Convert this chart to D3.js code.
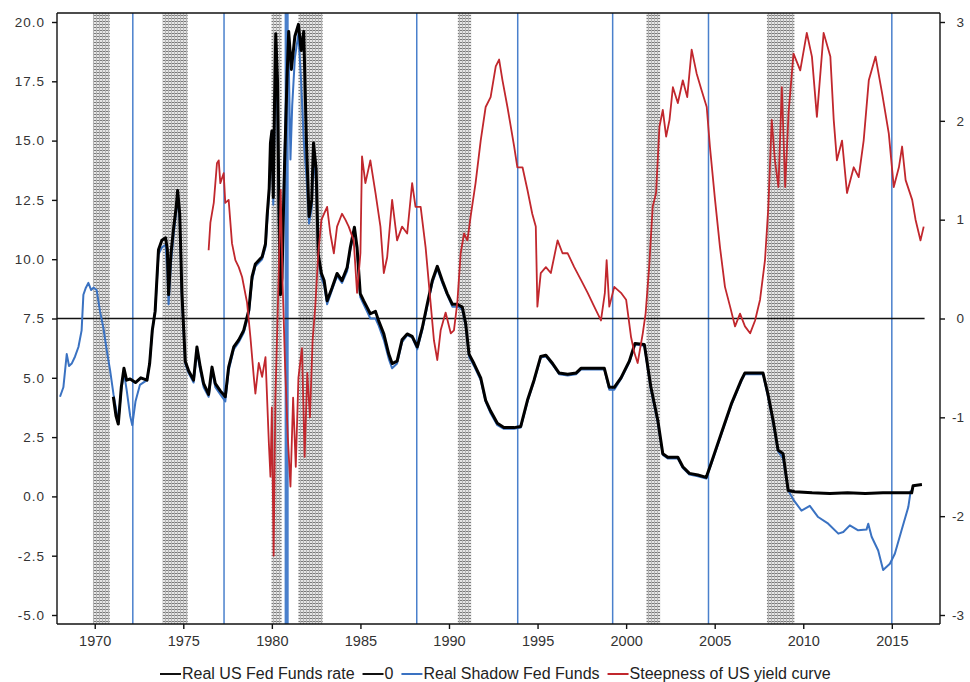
<!DOCTYPE html>
<html lang="en">
<head>
<meta charset="utf-8">
<script src="https://cdnjs.cloudflare.com/ajax/libs/d3/7.8.5/d3.min.js"></script>
<style>
body { margin: 0; background: #fff; }
svg text { font-family: "Liberation Sans", Arial, sans-serif; fill: #333; }
.axis path, .axis line { stroke: #111; stroke-width: 1.4; }
</style>
</head>
<body>
<svg width="970" height="682"></svg>
<script>

// real US fed funds rate, [year, %]
var fedFunds = [
  [1971.05,4.2],[1971.2,3.4],[1971.33,3.05],[1971.5,4.6],[1971.65,5.4],[1971.8,4.9],[1972.0,4.95],
  [1972.3,4.8],[1972.6,5.0],[1972.95,4.9],[1973.1,5.6],[1973.25,7.0],[1973.41,7.8],[1973.6,10.4],
  [1973.79,10.8],[1974.0,10.9],[1974.1,10.4],[1974.17,8.5],[1974.3,10.2],[1974.45,11.3],[1974.6,12.2],
  [1974.68,12.9],[1974.8,11.9],[1974.92,8.6],[1975.11,5.7],[1975.3,5.3],[1975.58,4.9],[1975.77,6.3],
  [1975.96,5.45],[1976.15,4.75],[1976.43,4.3],[1976.62,5.45],[1976.81,4.75],[1977.09,4.45],[1977.37,4.2],
  [1977.56,5.45],[1977.85,6.3],[1978.13,6.6],[1978.41,7.0],[1978.7,7.85],[1978.88,9.25],[1979.07,9.8],
  [1979.45,10.1],[1979.64,10.65],[1979.73,11.8],[1979.85,13.0],[1979.92,14.9],[1980.0,15.4],[1980.08,12.6],
  [1980.15,16.5],[1980.22,19.5],[1980.32,17.5],[1980.4,12.0],[1980.48,8.5],[1980.57,9.2],[1980.7,13.5],
  [1980.85,17.5],[1980.95,19.6],[1981.1,18.0],[1981.3,19.4],[1981.5,19.9],[1981.65,18.8],[1981.8,19.6],
  [1981.95,15.0],[1982.1,11.8],[1982.25,12.5],[1982.35,14.9],[1982.5,13.8],[1982.62,10.2],[1982.8,9.4],
  [1982.95,9.1],[1983.12,8.25],[1983.4,8.8],[1983.68,9.4],[1983.96,9.1],[1984.25,9.65],[1984.43,10.5],
  [1984.66,11.35],[1984.81,10.5],[1984.99,8.55],[1985.18,8.25],[1985.37,7.98],[1985.56,7.7],[1985.85,7.8],
  [1986.03,7.4],[1986.32,6.85],[1986.6,6.0],[1986.79,5.6],[1987.07,5.7],[1987.35,6.6],[1987.64,6.85],
  [1987.92,6.75],[1988.21,6.3],[1988.49,7.1],[1988.77,8.1],[1989.06,9.1],[1989.34,9.7],[1989.62,9.1],
  [1989.9,8.55],[1990.19,8.1],[1990.47,8.1],[1990.75,7.98],[1990.94,7.3],[1991.13,6.0],[1991.41,5.6],
  [1991.79,5.0],[1992.07,4.05],[1992.35,3.6],[1992.73,3.08],[1993.1,2.9],[1993.67,2.9],[1994.05,2.95],
  [1994.43,4.05],[1994.8,4.9],[1995.18,5.9],[1995.47,5.95],[1995.85,5.6],[1996.22,5.2],[1996.7,5.15],
  [1997.17,5.2],[1997.45,5.4],[1998.2,5.4],[1998.77,5.4],[1999.05,4.6],[1999.33,4.6],[1999.71,5.0],
  [2000.18,5.7],[2000.5,6.45],[2001.03,6.4],[2001.4,4.6],[2001.79,3.2],[2002.07,1.8],[2002.35,1.65],
  [2002.92,1.65],[2003.2,1.25],[2003.57,0.97],[2004.05,0.9],[2004.52,0.8],[2004.8,1.4],[2005.37,2.65],
  [2005.94,3.9],[2006.5,4.9],[2006.7,5.2],[2007.73,5.2],[2008.01,4.3],[2008.3,3.2],[2008.58,1.95],
  [2008.86,1.8],[2009.15,0.25],[2009.52,0.2],[2010.5,0.15],[2011.5,0.12],[2012.5,0.15],[2013.5,0.12],
  [2014.5,0.15],[2015.5,0.15],[2016.12,0.15],[2016.2,0.45],[2016.7,0.5]
];

// real shadow fed funds, [year, %]
var shadowFunds = [
  [1968.04,4.2],[1968.23,4.6],[1968.42,6.0],[1968.55,5.5],[1968.7,5.6],[1968.89,5.9],[1969.08,6.3],
  [1969.26,7.0],[1969.36,8.5],[1969.5,8.8],[1969.64,9.0],[1969.8,8.7],[1969.93,8.8],[1970.11,8.7],
  [1970.3,7.8],[1970.49,7.1],[1970.68,6.15],[1970.87,5.3],[1971.06,4.3],[1971.25,3.5],[1971.33,3.1],
  [1971.5,4.5],[1971.65,5.2],[1971.8,4.5],[1972.0,3.4],[1972.12,3.0],[1972.3,4.0],[1972.55,4.7],
  [1972.95,4.9],[1973.1,5.6],[1973.25,7.0],[1973.41,7.8],[1973.6,10.2],[1973.79,10.5],[1974.0,10.6],
  [1974.1,9.5],[1974.17,8.1],[1974.3,9.8],[1974.45,11.0],[1974.6,12.0],[1974.68,12.6],[1974.8,11.6],
  [1974.92,8.4],[1975.11,5.6],[1975.3,5.2],[1975.58,4.8],[1975.77,6.1],[1975.96,5.3],[1976.15,4.6],
  [1976.43,4.2],[1976.62,5.3],[1976.81,4.6],[1977.09,4.3],[1977.37,4.0],[1977.56,5.3],[1977.85,6.2],
  [1978.13,6.5],[1978.41,6.9],[1978.7,7.7],[1978.88,9.1],[1979.07,9.7],[1979.45,10.0],[1979.64,10.5],
  [1979.73,11.5],[1979.85,12.8],[1979.92,14.5],[1980.0,15.0],[1980.08,12.3],[1980.15,16.0],[1980.22,19.0],
  [1980.32,16.0],[1980.4,11.5],[1980.48,8.8],[1980.57,9.5],[1980.7,14.0],[1980.85,18.0],[1980.95,18.5],
  [1981.05,14.2],[1981.15,16.5],[1981.3,18.5],[1981.5,19.5],[1981.65,17.5],[1981.8,15.0],[1981.95,13.5],
  [1982.1,11.5],[1982.25,12.2],[1982.35,14.3],[1982.5,13.2],[1982.62,10.0],[1982.8,9.2],[1982.95,8.9],
  [1983.12,8.1],[1983.4,8.7],[1983.68,9.3],[1983.96,9.0],[1984.25,9.5],[1984.43,10.4],[1984.66,11.2],
  [1984.81,10.4],[1984.99,8.4],[1985.18,8.1],[1985.37,7.8],[1985.56,7.5],[1985.85,7.5],[1986.03,7.2],
  [1986.32,6.6],[1986.6,5.8],[1986.79,5.4],[1987.07,5.6],[1987.35,6.5],[1987.64,6.8],[1987.92,6.7],
  [1988.21,6.2],[1988.49,7.0],[1988.77,8.0],[1989.06,9.0],[1989.34,9.6],[1989.62,9.0],[1989.9,8.5],
  [1990.19,8.0],[1990.47,8.0],[1990.75,7.9],[1990.94,7.2],[1991.13,5.9],[1991.41,5.5],[1991.79,4.9],
  [1992.07,4.0],[1992.35,3.5],[1992.73,3.0],[1993.1,2.85],[1993.67,2.85],[1994.05,2.9],[1994.43,4.0],
  [1994.8,4.85],[1995.18,5.85],[1995.47,5.9],[1995.85,5.55],[1996.22,5.15],[1996.7,5.1],[1997.17,5.15],
  [1997.45,5.35],[1998.2,5.35],[1998.77,5.35],[1999.05,4.5],[1999.33,4.5],[1999.71,4.95],[2000.18,5.65],
  [2000.5,6.4],[2001.03,6.35],[2001.4,4.5],[2001.79,3.1],[2002.07,1.75],[2002.35,1.6],[2002.92,1.6],
  [2003.2,1.2],[2003.57,0.92],[2004.05,0.85],[2004.52,0.75],[2004.8,1.35],[2005.37,2.6],[2005.94,3.85],
  [2006.5,4.85],[2006.7,5.15],[2007.73,5.15],[2008.01,4.2],[2008.3,3.1],[2008.58,1.9],[2008.86,1.6],
  [2009.15,0.25],[2009.5,-0.2],[2009.9,-0.6],[2010.37,-0.4],[2010.84,-0.87],[2011.41,-1.15],[2011.98,-1.57],
  [2012.26,-1.5],[2012.63,-1.22],[2013.1,-1.43],[2013.57,-1.4],[2013.67,-1.15],[2013.86,-1.7],[2014.23,-2.28],
  [2014.51,-3.1],[2014.89,-2.84],[2015.17,-2.42],[2015.55,-1.43],[2015.93,-0.45],[2016.07,0.25]
];

// steepness of US yield curve (right axis), [year, %]
var steepness = [
  [1976.43,0.69],[1976.53,0.97],[1976.72,1.17],[1976.9,1.57],[1977.0,1.6],[1977.09,1.37],[1977.28,1.47],
  [1977.37,1.17],[1977.56,1.2],[1977.75,0.76],[1977.94,0.59],[1978.13,0.52],[1978.32,0.42],[1978.6,0.16],
  [1978.79,-0.19],[1978.98,-0.59],[1979.07,-0.76],[1979.26,-0.45],[1979.45,-0.59],[1979.64,-0.39],
  [1979.83,-1.26],[1979.92,-1.6],[1980.0,-0.9],[1980.1,-2.4],[1980.2,-0.8],[1980.35,0.2],[1980.5,1.3],
  [1980.6,0.4],[1980.75,-0.5],[1980.9,-1.2],[1981.05,-1.7],[1981.2,-0.8],[1981.35,-1.5],[1981.5,-0.6],
  [1981.7,-0.3],[1981.85,-1.4],[1982.0,-0.55],[1982.15,-1.0],[1982.3,-0.22],[1982.45,0.12],[1982.62,0.66],
  [1982.8,1.0],[1983.12,1.13],[1983.3,0.86],[1983.5,0.66],[1983.68,0.93],[1983.96,1.06],[1984.15,1.0],
  [1984.34,0.93],[1984.62,0.79],[1984.81,0.26],[1985.0,0.66],[1985.09,1.64],[1985.28,1.37],[1985.56,1.6],
  [1985.85,1.27],[1986.13,0.93],[1986.32,0.46],[1986.51,0.62],[1986.79,1.2],[1987.07,0.79],[1987.35,0.93],
  [1987.64,0.86],[1987.92,1.37],[1988.11,1.13],[1988.4,1.13],[1988.68,0.72],[1988.96,0.16],[1989.15,-0.22],
  [1989.34,-0.42],[1989.53,-0.12],[1989.81,0.06],[1990.1,-0.15],[1990.28,-0.12],[1990.47,0.16],[1990.66,0.66],
  [1990.85,0.86],[1991.04,0.79],[1991.22,1.03],[1991.5,1.37],[1991.79,1.8],[1992.07,2.14],[1992.35,2.24],
  [1992.64,2.55],[1992.83,2.62],[1993.02,2.41],[1993.3,2.14],[1993.68,1.74],[1993.86,1.53],[1994.15,1.53],
  [1994.43,1.3],[1994.7,1.06],[1994.9,0.93],[1994.99,0.12],[1995.18,0.46],[1995.47,0.52],[1995.75,0.46],
  [1996.13,0.79],[1996.41,0.66],[1996.7,0.66],[1997.07,0.52],[1997.45,0.39],[1997.83,0.26],[1998.2,0.12],
  [1998.58,-0.02],[1998.8,0.26],[1998.9,0.59],[1999.05,0.12],[1999.33,0.32],[1999.71,0.26],[2000.0,0.19],
  [2000.28,-0.19],[2000.47,-0.35],[2000.65,-0.45],[2000.94,-0.15],[2001.1,0.05],[2001.3,0.52],[2001.5,1.13],
  [2001.69,1.27],[2001.88,1.94],[2002.07,2.11],[2002.26,1.84],[2002.45,2.01],[2002.64,2.34],[2002.92,2.18],
  [2003.2,2.41],[2003.45,2.24],[2003.7,2.72],[2003.98,2.48],[2004.26,2.31],[2004.55,2.14],[2004.73,1.74],
  [2005.02,1.2],[2005.3,0.72],[2005.58,0.32],[2005.87,0.12],[2006.15,-0.08],[2006.43,0.05],[2006.71,-0.08],
  [2007.0,-0.15],[2007.28,-0.02],[2007.56,0.19],[2007.84,0.59],[2008.03,1.13],[2008.22,2.01],[2008.4,1.6],
  [2008.6,1.33],[2008.79,2.34],[2008.98,1.33],[2009.17,2.08],[2009.45,2.68],[2009.83,2.51],[2010.2,2.89],
  [2010.49,2.65],[2010.77,2.04],[2011.15,2.89],[2011.53,2.65],[2011.72,2.01],[2011.9,1.6],[2012.19,1.8],
  [2012.47,1.27],[2012.85,1.53],[2013.13,1.43],[2013.41,1.8],[2013.7,2.41],[2014.08,2.65],[2014.45,2.28],
  [2014.83,1.87],[2015.11,1.33],[2015.4,1.53],[2015.58,1.74],[2015.78,1.4],[2016.15,1.2],[2016.34,1.0],
  [2016.62,0.79],[2016.8,0.93]
];

// the "0" reference line (right axis)
var zeroLine = [[1967.87, 0], [2016.85, 0]];

// recession periods (shaded)
var recessions = [
  [1969.9, 1970.85], [1973.83, 1975.25], [1979.98, 1980.55], [1981.5, 1982.87],
  [1990.5, 1991.25], [2001.15, 2001.92], [2007.95, 2009.5]
];

// blue vertical markers, and the one broad band around 1980.8
var markers = [1972.15, 1977.3, 1988.18, 1993.88, 1999.24, 2004.65, 2015.0];
var markerBand = [1980.72, 1980.95];

var yearTicks = d3.range(1970, 2016, 5);
var leftTicks = [-5, -2.5, 0, 2.5, 5, 7.5, 10, 12.5, 15, 17.5, 20];
var rightTicks = [-3, -2, -1, 0, 1, 2, 3];

var legendItems = [
  {label: "Real US Fed Funds rate", color: "#111"},
  {label: "0", color: "#111"},
  {label: "Real Shadow Fed Funds", color: "#3a72c2"},
  {label: "Steepness of US yield curve", color: "#c1272d"}
];

var svg = d3.select("svg"),
    box = {l: 57, r: 940, t: 13, b: 624};

var x = d3.scaleLinear().domain([1967.87, 2017.72]).range([box.l, box.r]);
var y = d3.scaleLinear().domain([-5, 20]).range([615, 22]);
var y2 = d3.scaleLinear().domain([-3, 3]).range([615, 22]);

// hatch pattern for recessions
var pat = svg.append("defs").append("pattern")
    .attr("id", "rec").attr("width", 3).attr("height", 3)
    .attr("patternUnits", "userSpaceOnUse");
pat.append("rect").attr("width", 3).attr("height", 3).attr("fill", "#e6e6e6");
pat.append("rect").attr("width", 3).attr("height", 1).attr("fill", "#7a7a7a");
pat.append("rect").attr("width", 1).attr("height", 3).attr("fill", "#b4b4b4");

svg.selectAll(".rec").data(recessions).enter().append("rect")
    .attr("class", "rec")
    .attr("x", function(d) { return x(d[0]); })
    .attr("width", function(d) { return x(d[1]) - x(d[0]); })
    .attr("y", box.t)
    .attr("height", box.b - box.t)
    .attr("fill", "url(#rec)");

svg.selectAll(".mark").data(markers).enter().append("line")
    .attr("class", "mark")
    .attr("x1", function(d) { return x(d); }).attr("x2", function(d) { return x(d); })
    .attr("y1", box.t).attr("y2", box.b)
    .attr("stroke", "#4a80cc").attr("stroke-width", 1.5);

svg.append("rect")
    .attr("x", x(markerBand[0])).attr("width", x(markerBand[1]) - x(markerBand[0]))
    .attr("y", box.t).attr("height", box.b - box.t)
    .attr("fill", "#4a80cc");

var lineL = d3.line().x(function(d) { return x(d[0]); }).y(function(d) { return y(d[1]); });
var lineR = d3.line().x(function(d) { return x(d[0]); }).y(function(d) { return y2(d[1]); });

svg.append("path").datum(zeroLine).attr("d", lineR)
    .attr("fill", "none").attr("stroke", "#111").attr("stroke-width", 1.4);

svg.append("path").datum(shadowFunds).attr("d", lineL)
    .attr("fill", "none").attr("stroke", "#3a72c2").attr("stroke-width", 2)
    .attr("stroke-linejoin", "round");

svg.append("path").datum(fedFunds).attr("d", lineL)
    .attr("fill", "none").attr("stroke", "#000").attr("stroke-width", 3)
    .attr("stroke-linejoin", "round");

svg.append("path").datum(steepness).attr("d", lineR)
    .attr("fill", "none").attr("stroke", "#c1272d").attr("stroke-width", 1.8)
    .attr("stroke-linejoin", "round");

// frame
svg.append("line").attr("x1", box.l).attr("x2", box.r).attr("y1", box.t).attr("y2", box.t)
    .attr("stroke", "#111").attr("stroke-width", 1.4);

// axes
var gx = svg.append("g").attr("class", "axis")
    .attr("transform", "translate(0," + box.b + ")")
    .call(d3.axisBottom(x).tickValues(yearTicks).tickFormat(d3.format("d"))
      .tickSize(5).tickPadding(7).tickSizeOuter(0));
gx.select(".domain").attr("d", "M" + box.l + ",0H" + box.r);
gx.selectAll("text").style("font-size", "14.5px");

var gy = svg.append("g").attr("class", "axis")
    .attr("transform", "translate(" + box.l + ",0)")
    .call(d3.axisLeft(y).tickValues(leftTicks).tickFormat(function(d) { return d.toFixed(1); })
      .tickSize(5).tickPadding(7).tickSizeOuter(0));
gy.select(".domain").attr("d", "M0," + box.t + "V" + box.b);
gy.selectAll("text").style("font-size", "13.5px").style("letter-spacing", "1px");

var gy2 = svg.append("g").attr("class", "axis")
    .attr("transform", "translate(" + box.r + ",0)")
    .call(d3.axisRight(y2).tickValues(rightTicks).tickFormat(function(d) { return String(d); })
      .tickSize(5).tickPadding(7).tickSizeOuter(0));
gy2.select(".domain").attr("d", "M0," + box.t + "V" + box.b);
gy2.selectAll("text").style("font-size", "13.5px")
    .attr("text-anchor", "end").attr("x", 24);

// legend
var lg = svg.append("g").attr("transform", "translate(160,679)");
var cx = 0;
legendItems.forEach(function(it) {
  lg.append("line").attr("x1", cx).attr("x2", cx + 21).attr("y1", -5).attr("y2", -5)
      .attr("stroke", it.color).attr("stroke-width", 2);
  var t = lg.append("text").attr("x", cx + 22).attr("y", 0)
      .style("font-size", "16px").style("fill", "#222").text(it.label);
  cx += 22 + t.node().getComputedTextLength() + 8;
});

</script>
</body>
</html>
